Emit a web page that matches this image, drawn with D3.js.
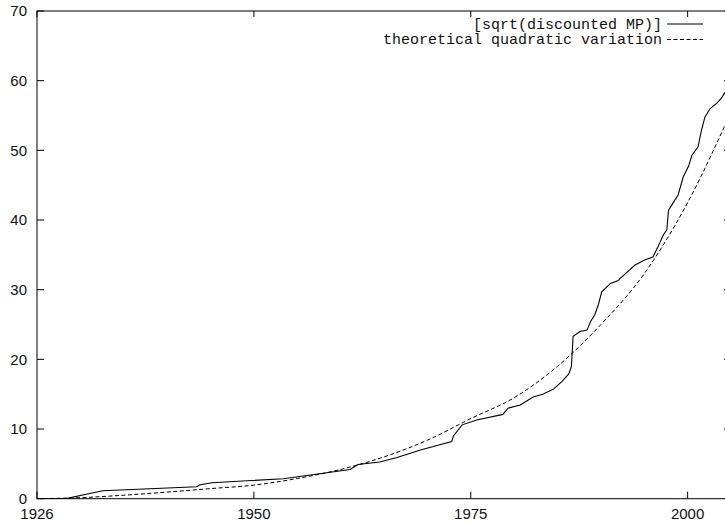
<!DOCTYPE html>
<html>
<head>
<meta charset="utf-8">
<script src="https://cdn.jsdelivr.net/npm/d3@7"></script>
<style>
  body { margin: 0; background: #fff; }
  svg { display: block; }
</style>
</head>
<body>
<div id="chart"></div>
<script>
var mpYears = [1925.0, 1928.5, 1930.8, 1932.6, 1943.4, 1943.8, 1945.2, 1953.4, 1961.1, 1962.0,
  1964.5, 1966.5, 1969.2, 1971.0, 1972.8, 1973.0, 1974.0, 1975.7, 1978.7, 1979.3, 1980.7, 1982.2,
  1983.3, 1984.5, 1985.5, 1986.3, 1986.6, 1986.8, 1987.6, 1988.4, 1988.8, 1989.3,
  1989.7, 1990.1, 1991.1, 1992.0, 1992.2, 1993.9, 1995.1, 1996.0, 1996.6, 1997.2,
  1997.6, 1997.8, 1998.4, 1998.9, 1999.5, 2000.1, 2000.5, 2001.2, 2001.6, 2002.0,
  2002.6, 2003.4, 2003.9, 2004.3, 2005.0];
var mpValues = [0, 0.05, 0.67, 1.15, 1.72, 2.0, 2.3, 2.87, 4.2, 4.9,
  5.27, 5.9, 7.0, 7.6, 8.2, 9.0, 10.6, 11.3, 12.1, 13.0, 13.45, 14.6,
  15.0, 15.7, 16.8, 17.9, 18.95, 23.3, 24.0, 24.2, 25.4, 26.4,
  27.8, 29.7, 30.9, 31.3, 31.6, 33.5, 34.3, 34.7, 36.2, 37.85,
  38.6, 41.4, 42.6, 43.6, 46.2, 47.7, 49.3, 50.5, 52.9, 54.8,
  56.0, 56.8, 57.5, 58.3, 58.8];

// theoretical curve
var qvYears = [1925, 1930, 1935, 1940, 1945, 1950, 1955, 1960, 1965, 1970, 1975, 1980, 1985, 1990, 1995, 2000, 2005];
var qvValues = [0, 0.15, 0.5, 0.95, 1.45, 1.95, 2.9, 4.2, 6.0, 8.4, 11.5, 14.5, 19.0, 25.0, 32.3, 42.5, 55.5];

var xTickValues = [1925, 1950, 1975, 2000];
var xTickLabels = ["1926", "1950", "1975", "2000"];
var yTickValues = [0, 10, 20, 30, 40, 50, 60, 70];
var legendLabels = ["[sqrt(discounted MP)]", "theoretical quadratic variation"];

(function() {
  var width = 725, height = 524;
  var left = 37, right = 731, top = 11, bottom = 498.7;

  var x = d3.scaleLinear().domain([1925, 2005]).range([left, right]);
  var y = d3.scaleLinear().domain([0, 70]).range([bottom, top]);

  var svg = d3.select("#chart").append("svg")
      .attr("width", width)
      .attr("height", height);

  var frame = svg.append("g")
      .attr("fill", "none")
      .attr("stroke", "#000")
      .attr("stroke-width", 1);

  frame.append("rect")
      .attr("x", left)
      .attr("y", top)
      .attr("width", right - left)
      .attr("height", bottom - top);

  // mirrored ticks, pointing inward
  xTickValues.forEach(function(d) {
    frame.append("line").attr("x1", x(d)).attr("x2", x(d)).attr("y1", bottom).attr("y2", bottom - 7);
    frame.append("line").attr("x1", x(d)).attr("x2", x(d)).attr("y1", top).attr("y2", top + 6);
  });
  yTickValues.forEach(function(d) {
    frame.append("line").attr("x1", left).attr("x2", left + 7).attr("y1", y(d)).attr("y2", y(d));
    frame.append("line").attr("x1", right).attr("x2", right - 7).attr("y1", y(d)).attr("y2", y(d));
  });

  var labels = svg.append("g")
      .attr("font-family", "'Liberation Sans', Arial, sans-serif")
      .attr("font-size", 15)
      .attr("fill", "#111");

  labels.selectAll("text.xt")
      .data(xTickValues)
    .enter().append("text")
      .attr("class", "xt")
      .attr("x", function(d) { return x(d); })
      .attr("y", 519)
      .attr("text-anchor", "middle")
      .text(function(d, i) { return xTickLabels[i]; });

  labels.selectAll("text.yt")
      .data(yTickValues)
    .enter().append("text")
      .attr("class", "yt")
      .attr("x", 27)
      .attr("y", function(d) { return y(d); })
      .attr("dy", "0.35em")
      .attr("text-anchor", "end")
      .text(function(d) { return d; });

  var line = d3.line()
      .x(function(d) { return x(d[0]); })
      .y(function(d) { return y(d[1]); });

  var smooth = d3.line()
      .curve(d3.curveMonotoneX)
      .x(function(d) { return x(d[0]); })
      .y(function(d) { return y(d[1]); });

  svg.append("defs").append("clipPath")
      .attr("id", "plotclip")
    .append("rect")
      .attr("x", left).attr("y", top)
      .attr("width", right - left).attr("height", bottom - top);

  var plot = svg.append("g").attr("clip-path", "url(#plotclip)");

  plot.append("path")
      .datum(d3.zip(qvYears, qvValues))
      .attr("d", smooth)
      .attr("fill", "none")
      .attr("stroke", "#000")
      .attr("stroke-width", 1)
      .attr("stroke-dasharray", "4,2.5");

  plot.append("path")
      .datum(d3.zip(mpYears, mpValues))
      .attr("d", line)
      .attr("fill", "none")
      .attr("stroke", "#000")
      .attr("stroke-width", 1.1);

  // legend
  var legend = svg.append("g")
      .attr("font-family", "'Liberation Mono', 'Courier New', monospace")
      .attr("font-size", 15)
      .attr("fill", "#111");

  legendLabels.forEach(function(t, i) {
    var ly = 24 + i * 15.5;
    legend.append("text")
        .attr("x", 662)
        .attr("y", ly)
        .attr("dy", "0.32em")
        .attr("text-anchor", "end")
        .text(t);
    legend.append("line")
        .attr("x1", 667).attr("x2", 703)
        .attr("y1", ly).attr("y2", ly)
        .attr("stroke", "#000")
        .attr("stroke-width", 1)
        .attr("stroke-dasharray", i == 1 ? "4,2.5" : null);
  });
})();
</script>
</body>
</html>
